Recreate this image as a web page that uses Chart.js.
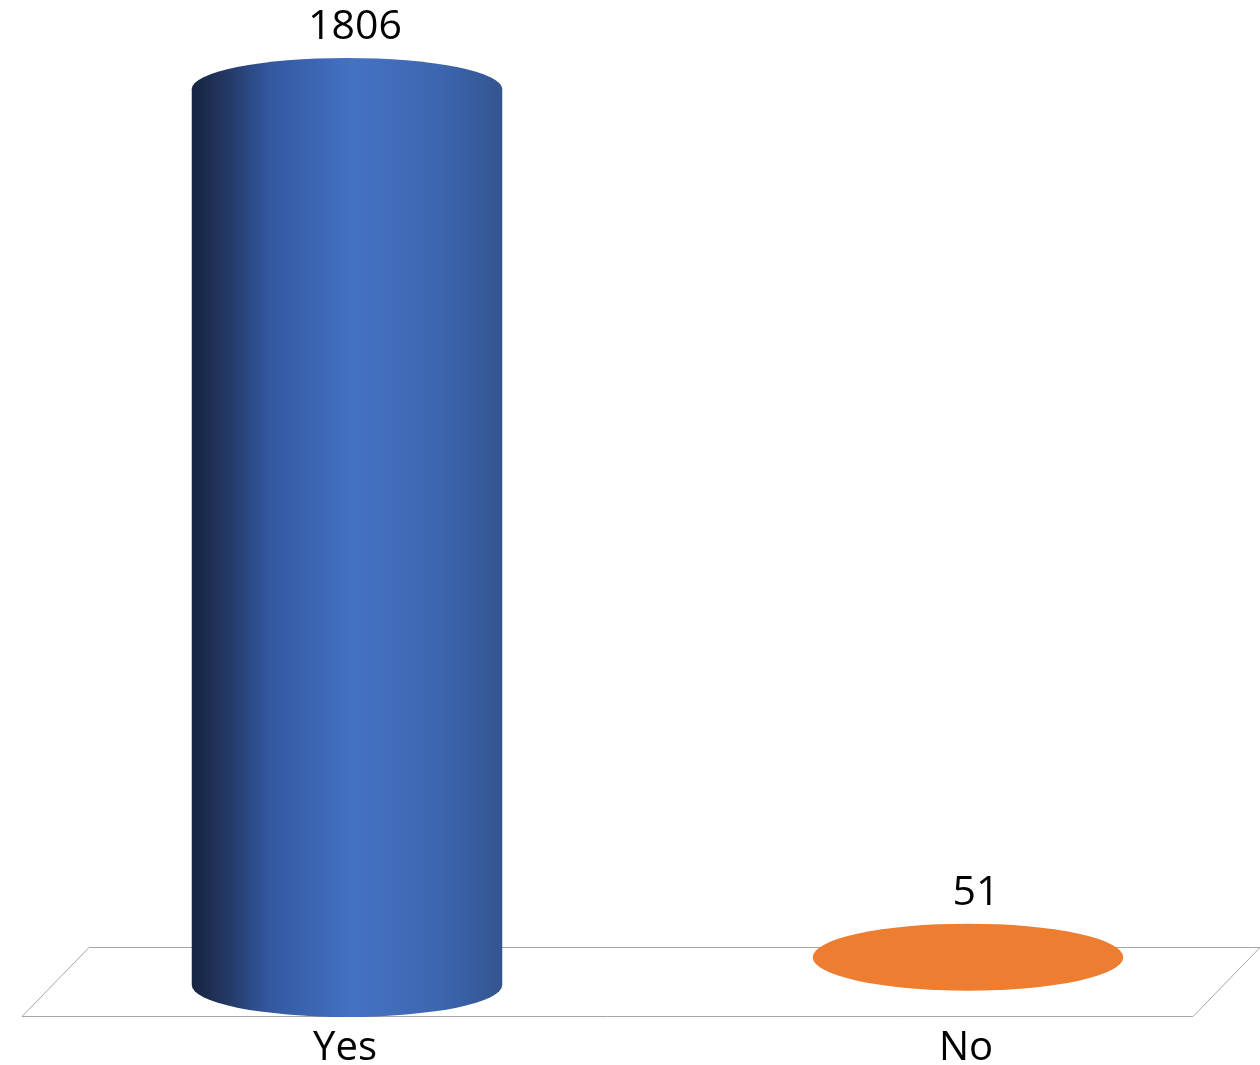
<!DOCTYPE html>
<html>
<head>
<meta charset="utf-8">
<script src="https://cdn.jsdelivr.net/npm/chart.js@4.4.0/dist/chart.umd.min.js"></script>
<style>
  html, body { margin: 0; padding: 0; background: #ffffff; }
  #wrap { width: 1260px; height: 1065px; position: relative; }
</style>
</head>
<body>
<div id="wrap"><canvas id="c"></canvas></div>
<script>
// ---- data ----
const categories = ["Yes", "No"];
const values = [1806, 51];

// ---- styles ----
const seriesColors = ["#4472c4", "#ed7d31"];
const showBody = [true, false];
const capRy = 32;
const labelFont = "41px 'Open Sans', 'DejaVu Sans', sans-serif";
const catFont = "40px 'Open Sans', 'DejaVu Sans', sans-serif";

function blueGradient(ctx, x0, x1) {
  const g = ctx.createLinearGradient(x0, 0, x1, 0);
  g.addColorStop(0.00, "#182440");
  g.addColorStop(0.12, "#243a66");
  g.addColorStop(0.25, "#3358a0");
  g.addColorStop(0.52, "#4472c4");
  g.addColorStop(0.80, "#3d66b0");
  g.addColorStop(1.00, "#33558f");
  return g;
}

const cylinderPlugin = {
  id: "cylinders",
  beforeDatasetsDraw(chart) {
    const ctx = chart.ctx;
    const meta = chart.getDatasetMeta(0);
    const base = meta.data[0].base;
    const x0 = meta.data[0].x, x1 = meta.data[meta.data.length - 1].x;
    // floor parallelogram
    const dx = 67, halfDepth = 34;
    const left = x0 - 325, right = x1 + 225;
    ctx.save();
    ctx.strokeStyle = "#a6a6a6";
    ctx.lineWidth = 1;
    ctx.beginPath();
    ctx.moveTo(left, base + halfDepth - 2.5);
    ctx.lineTo(right, base + halfDepth - 2.5);
    ctx.lineTo(right + dx, base - halfDepth - 3.5);
    ctx.lineTo(left + dx, base - halfDepth - 3.5);
    ctx.closePath();
    ctx.stroke();
    ctx.restore();
  },
  afterDatasetsDraw(chart) {
    const ctx = chart.ctx;
    const meta = chart.getDatasetMeta(0);
    meta.data.forEach((el, i) => {
      const cx = el.x, top = el.y, base = el.base;
      const rx = el.width / 2;
      const isBlue = i === 0;
      const fill = isBlue ? blueGradient(ctx, cx - rx, cx + rx) : seriesColors[i];
      ctx.save();
      if (showBody[i]) {
        ctx.beginPath();
        ctx.moveTo(cx - rx, top);
        ctx.lineTo(cx - rx, base);
        ctx.ellipse(cx, base, rx, capRy, 0, Math.PI, 0, true);
        ctx.lineTo(cx + rx, top);
        ctx.closePath();
        ctx.fillStyle = fill;
        ctx.fill();
      }
      ctx.beginPath();
      const ry = showBody[i] ? capRy - 1 : capRy + 1.5;
      const cy = showBody[i] ? top : top - 2.5;
      ctx.ellipse(cx, cy, rx, ry, 0, 0, Math.PI * 2);
      ctx.fillStyle = fill;
      ctx.fill();
      // value label
      ctx.fillStyle = "#000000";
      ctx.font = labelFont;
      ctx.textAlign = "center";
      ctx.textBaseline = "alphabetic";
      ctx.fillText(String(values[i]), cx + 8, cy - ry - 19);
      // category label
      ctx.font = catFont;
      ctx.fillText(categories[i], cx - 2, 1060);
      ctx.restore();
    });
  }
};

new Chart(document.getElementById("c"), {
  type: "bar",
  data: {
    labels: categories,
    datasets: [{
      data: values,
      backgroundColor: "rgba(0,0,0,0)",
      borderWidth: 0,
      categoryPercentage: 1,
      barPercentage: 0.5
    }]
  },
  options: {
    responsive: true,
    maintainAspectRatio: false,
    animation: false,
    events: [],
    layout: { padding: { top: 89, bottom: 80, left: 347, right: 292 } },
    plugins: { legend: { display: false }, tooltip: { enabled: false }, title: { display: false } },
    scales: {
      x: { display: false, offset: false },
      y: { display: false, min: 0, max: Math.max(...values) }
    }
  },
  plugins: [cylinderPlugin]
});
</script>
</body>
</html>
